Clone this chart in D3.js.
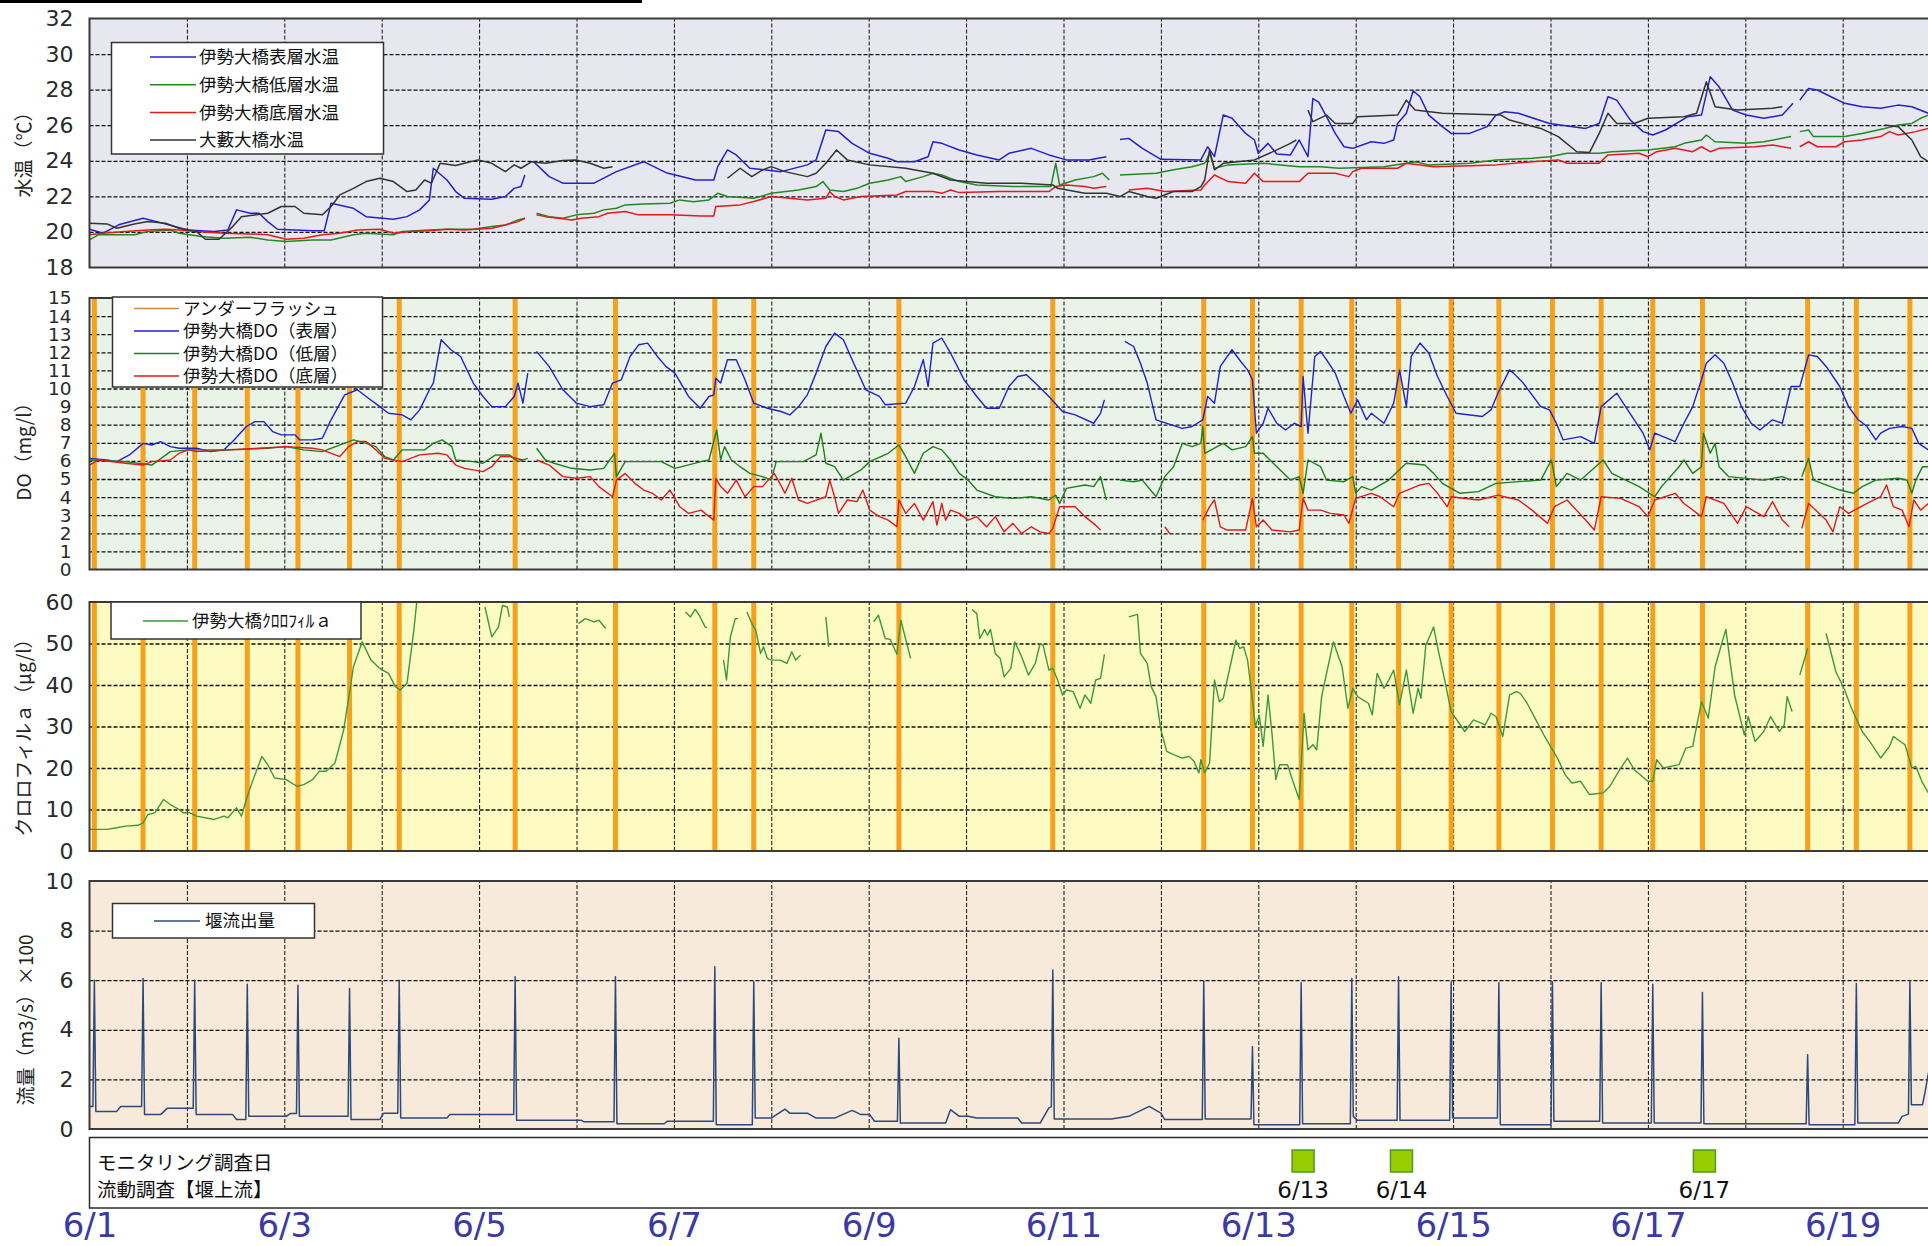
<!DOCTYPE html>
<html lang="ja">
<head>
<meta charset="utf-8">
<title>伊勢大橋 水質・流量</title>
<script src="https://cdn.jsdelivr.net/npm/d3@7"></script>
<style>
  body { margin: 0; background: #fff; }
  svg { display: block; }
  .grid path { display: none; }
  .grid line { stroke: #111; stroke-dasharray: 4 2; }
</style>
</head>
<body>
<svg id="chart" width="1928" height="1246"></svg>
<script>
// ----------------------------------------------------------
// data  (day = days after 6/1 00:00)
// ----------------------------------------------------------
const dateTickDays = [0, 2, 4, 6, 8, 10, 12, 14, 16, 18];
const dateTickLabels = ["6/1", "6/3", "6/5", "6/7", "6/9", "6/11", "6/13", "6/15", "6/17", "6/19"];

const tempTicks = [18, 20, 22, 24, 26, 28, 30, 32];
const doTicks = [0, 1, 2, 3, 4, 5, 6, 7, 8, 9, 10, 11, 12, 13, 14, 15];
const chlTicks = [0, 10, 20, 30, 40, 50, 60];
const flowTicks = [0, 2, 4, 6, 8, 10];

const tempNames = ["伊勢大橋表層水温", "伊勢大橋低層水温", "伊勢大橋底層水温", "大藪大橋水温"];
const doNames = ["アンダーフラッシュ", "伊勢大橋DO（表層）", "伊勢大橋DO（低層）", "伊勢大橋DO（底層）"];
const chlNames = ["伊勢大橋ｸﾛﾛﾌｨﾙａ"];
const flowNames = ["堰流出量"];

const surveyDays = [12.46, 13.47, 16.58];
const surveyLabels = ["6/13", "6/14", "6/17"];

// underflush operations (orange bands)
const underflushDays = [0.05, 0.55, 1.08, 1.62, 2.14, 2.67, 3.18, 4.37, 5.40, 6.42, 6.82, 8.31, 9.89,
  11.44, 11.94, 12.44, 12.96, 13.44, 13.98, 14.47, 15.02, 15.52, 16.05, 16.56, 17.64, 18.14, 18.69];

const tempSurface = [[0.00,20.15],[0.14,19.93],[0.30,20.40],[0.55,20.77],[0.69,20.58],[1.01,20.11],[1.28,20.02],[1.42,20.11],[1.51,21.24],[1.65,21.05],[1.74,21.05],[1.83,20.58],[1.93,20.15],[2.29,20.06],[2.41,20.06],[2.48,21.61],[2.71,21.33],[2.84,20.86],[3.12,20.71],[3.26,20.86],[3.39,21.24],[3.49,21.80],[3.53,23.58],[3.67,22.92],[3.76,22.27],[3.85,21.89],[4.13,21.84],[4.27,21.99],[4.36,22.45],[4.43,22.55],[4.47,23.20],[4.50,null],[4.56,23.95],[4.72,23.11],[4.86,22.74],[5.18,22.74],[5.41,23.39],[5.69,23.95],[5.92,23.33],[6.15,23.02],[6.22,22.92],[6.41,22.92],[6.45,23.67],[6.55,24.61],[6.64,24.33],[6.78,23.58],[7.10,23.39],[7.37,23.77],[7.46,24.05],[7.56,25.73],[7.69,25.64],[7.83,24.98],[8.01,24.42],[8.20,24.14],[8.29,23.95],[8.47,23.95],[8.61,24.23],[8.66,25.07],[8.75,24.98],[8.93,24.61],[9.11,24.33],[9.34,24.05],[9.44,24.42],[9.67,24.70],[9.85,24.33],[10.03,24.05],[10.26,24.05],[10.44,24.23],[10.50,null],[10.58,25.20],[10.67,25.26],[10.81,24.70],[11.00,24.08],[11.41,24.05],[11.48,24.79],[11.55,24.23],[11.64,26.57],[11.73,26.39],[11.87,25.54],[11.96,25.17],[12.00,24.42],[12.10,24.98],[12.19,24.38],[12.33,24.33],[12.42,25.17],[12.51,24.23],[12.56,27.50],[12.62,27.30],[12.70,26.48],[12.79,25.54],[12.88,24.79],[12.97,24.70],[13.16,25.07],[13.29,24.98],[13.39,25.17],[13.43,26.10],[13.52,26.67],[13.59,27.94],[13.66,27.60],[13.75,26.57],[13.89,25.92],[13.98,25.54],[14.17,25.54],[14.35,25.92],[14.44,26.57],[14.53,26.76],[14.67,26.67],[14.99,26.10],[15.36,25.82],[15.50,26.10],[15.59,27.60],[15.68,27.41],[15.82,26.29],[15.95,25.64],[16.05,25.45],[16.18,25.73],[16.41,26.48],[16.55,26.57],[16.64,28.72],[16.73,28.16],[16.87,26.85],[17.01,26.57],[17.19,26.39],[17.38,26.57],[17.49,27.23],[17.52,null],[17.56,27.41],[17.65,28.07],[17.74,27.98],[17.88,27.60],[18.02,27.23],[18.20,27.04],[18.39,26.95],[18.57,27.13],[18.71,27.04],[18.88,26.67],[19.00,26.50]];

const tempLow = [[0.00,19.55],[0.09,19.84],[0.46,19.84],[0.60,20.02],[0.83,20.11],[0.92,19.93],[1.15,19.74],[1.38,19.65],[1.65,19.70],[1.83,19.55],[2.02,19.46],[2.29,19.55],[2.48,19.55],[2.71,19.84],[2.84,19.93],[3.12,19.84],[3.21,20.02],[3.49,20.11],[3.67,20.15],[3.94,20.15],[4.13,20.30],[4.27,20.39],[4.40,20.67],[4.47,20.77],[4.50,null],[4.59,21.05],[4.72,20.86],[4.86,20.77],[5.00,20.96],[5.18,21.05],[5.28,21.24],[5.41,21.33],[5.50,21.52],[5.69,21.57],[5.96,21.61],[6.06,21.80],[6.20,21.70],[6.36,21.80],[6.45,22.17],[6.55,21.99],[6.82,21.89],[7.00,22.17],[7.28,22.36],[7.46,22.55],[7.53,22.83],[7.60,22.36],[7.74,22.27],[7.88,22.45],[8.01,22.74],[8.20,22.92],[8.33,23.11],[8.38,22.83],[8.56,23.11],[8.66,23.30],[8.75,23.20],[8.93,22.83],[9.11,22.64],[9.48,22.55],[9.87,22.55],[9.92,23.86],[9.96,22.64],[10.12,22.92],[10.31,23.11],[10.40,23.30],[10.47,22.92],[10.52,null],[10.58,23.20],[10.95,23.30],[11.13,23.49],[11.32,23.67],[11.45,23.86],[11.50,24.42],[11.55,23.58],[11.69,23.77],[12.05,23.86],[12.42,23.67],[12.64,23.67],[12.83,23.58],[13.29,23.67],[13.52,23.86],[13.61,23.95],[13.75,23.77],[14.17,23.86],[14.44,24.05],[14.81,24.14],[14.99,24.23],[15.17,24.42],[15.50,24.42],[15.63,24.51],[16.00,24.61],[16.28,24.79],[16.37,24.98],[16.55,25.17],[16.60,25.45],[16.69,25.07],[17.01,24.98],[17.19,25.07],[17.47,25.36],[17.52,null],[17.56,25.64],[17.65,25.73],[17.70,25.36],[18.02,25.36],[18.20,25.54],[18.43,25.82],[18.57,26.01],[18.71,26.10],[18.80,26.39],[18.88,26.57],[19.00,26.70]];

const tempBottom = [[0.00,19.84],[0.14,19.93],[0.37,20.02],[0.60,20.11],[0.78,20.15],[0.92,20.11],[1.10,20.02],[1.38,19.93],[1.65,19.89],[1.83,19.84],[2.02,19.59],[2.20,19.65],[2.39,19.84],[2.57,19.93],[2.75,20.11],[2.98,20.15],[3.12,19.93],[3.30,20.02],[3.49,20.06],[3.67,20.15],[3.85,20.11],[4.13,20.21],[4.27,20.39],[4.40,20.58],[4.47,20.77],[4.50,null],[4.59,20.96],[4.68,20.86],[4.82,20.77],[4.95,20.67],[5.05,20.77],[5.23,20.86],[5.32,21.05],[5.50,21.15],[5.64,20.96],[5.96,20.96],[6.28,20.90],[6.41,20.90],[6.43,21.43],[6.68,21.52],[6.82,21.71],[7.00,21.99],[7.19,21.89],[7.37,21.80],[7.56,21.89],[7.60,22.27],[7.65,21.99],[7.74,21.80],[7.92,21.99],[8.29,22.08],[8.38,22.27],[8.66,22.27],[8.75,22.17],[8.84,22.36],[8.93,22.21],[9.34,22.27],[9.85,22.27],[9.92,22.55],[10.03,22.64],[10.22,22.55],[10.31,22.45],[10.44,22.55],[10.50,null],[10.67,22.36],[10.86,22.45],[11.04,22.27],[11.41,22.36],[11.45,22.64],[11.55,23.20],[11.69,22.83],[11.87,22.74],[11.96,23.30],[12.05,22.83],[12.42,22.83],[12.51,23.30],[12.64,23.30],[12.79,23.30],[12.93,23.11],[12.97,23.39],[13.06,23.58],[13.43,23.58],[13.52,23.86],[13.80,23.67],[14.44,23.77],[14.81,23.95],[15.08,24.05],[15.17,23.86],[15.50,23.86],[15.59,24.33],[15.91,24.42],[16.00,24.23],[16.09,24.51],[16.28,24.70],[16.46,24.51],[16.55,24.79],[16.64,24.51],[16.73,24.70],[17.10,24.79],[17.28,24.89],[17.47,24.70],[17.52,null],[17.56,24.79],[17.65,25.07],[17.74,24.79],[17.93,24.79],[18.02,25.07],[18.20,25.17],[18.39,25.36],[18.48,25.64],[18.57,25.45],[18.75,25.64],[18.88,25.82],[19.00,25.90]];

const tempOyabu = [[0.00,20.49],[0.18,20.45],[0.28,20.21],[0.46,20.45],[0.60,20.58],[0.78,20.49],[0.92,20.21],[1.10,20.02],[1.19,19.59],[1.33,19.59],[1.47,20.30],[1.56,20.86],[1.83,21.05],[1.97,21.43],[2.11,21.43],[2.20,21.05],[2.39,20.96],[2.48,21.43],[2.57,22.08],[2.71,22.45],[2.84,22.83],[2.98,23.02],[3.12,22.83],[3.26,22.27],[3.35,22.36],[3.44,22.92],[3.51,22.74],[3.60,23.86],[3.76,23.74],[3.85,23.86],[3.99,24.05],[4.13,23.86],[4.27,23.39],[4.36,23.77],[4.43,23.58],[4.54,23.95],[4.68,23.86],[4.86,24.01],[4.99,24.05],[5.14,23.86],[5.28,23.58],[5.37,23.67],[5.40,null],[6.55,23.02],[6.68,23.58],[6.80,23.11],[6.91,23.49],[7.00,23.67],[7.14,23.39],[7.37,23.11],[7.46,23.30],[7.56,23.86],[7.67,24.61],[7.78,24.05],[8.01,23.77],[8.38,23.58],[8.66,23.30],[8.84,22.92],[9.21,22.74],[9.57,22.74],[9.89,22.64],[9.94,22.45],[10.22,22.17],[10.44,22.17],[10.58,21.99],[10.67,22.27],[10.86,21.99],[10.95,21.89],[11.13,22.27],[11.32,22.27],[11.41,22.55],[11.45,22.92],[11.50,24.61],[11.55,23.49],[11.64,23.86],[11.96,24.05],[12.19,24.61],[12.33,24.98],[12.39,25.17],[12.44,null],[12.51,26.85],[12.56,26.20],[12.70,26.57],[12.79,26.10],[12.97,26.10],[13.02,26.48],[13.43,26.57],[13.52,27.41],[13.61,26.85],[13.89,26.67],[14.49,26.57],[14.58,26.29],[14.90,25.82],[15.08,25.36],[15.27,24.51],[15.40,24.46],[15.50,25.54],[15.59,26.67],[15.68,26.10],[15.86,26.10],[16.00,26.39],[16.37,26.48],[16.50,26.67],[16.60,28.44],[16.69,27.04],[16.92,26.85],[17.28,26.95],[17.38,27.04],[17.42,null],[18.43,26.01],[18.57,25.92],[18.71,25.17],[18.80,24.23],[18.88,23.95],[19.00,23.90]];

const doSurface = [[0.00,6.14],[0.18,6.05],[0.28,5.96],[0.41,6.33],[0.55,6.97],[0.64,6.88],[0.73,7.06],[0.83,6.79],[0.92,6.70],[1.10,6.70],[1.24,6.51],[1.38,6.61],[1.47,7.07],[1.61,7.90],[1.70,8.17],[1.79,8.17],[1.88,7.62],[1.97,7.44],[2.11,7.44],[2.16,7.16],[2.29,7.16],[2.39,7.25],[2.48,8.27],[2.62,9.65],[2.75,9.93],[2.84,9.56],[2.98,9.00],[3.07,8.63],[3.21,8.54],[3.30,8.27],[3.39,8.82],[3.49,9.93],[3.53,10.30],[3.61,12.69],[3.71,12.14],[3.81,11.77],[3.94,10.30],[4.04,9.56],[4.13,9.00],[4.27,9.00],[4.36,9.56],[4.40,10.30],[4.45,9.19],[4.50,10.85],[4.54,null],[4.59,12.05],[4.72,11.21],[4.86,9.93],[5.00,9.19],[5.14,9.00],[5.28,9.10],[5.37,10.30],[5.46,10.48],[5.55,11.77],[5.64,12.42],[5.73,12.51],[5.83,11.77],[5.92,11.21],[6.01,10.85],[6.15,9.56],[6.27,8.91],[6.36,9.56],[6.41,9.65],[6.43,10.57],[6.48,10.30],[6.55,11.59],[6.64,11.59],[6.73,10.48],[6.82,9.19],[6.96,8.91],[7.10,8.73],[7.19,8.54],[7.28,9.00],[7.37,9.65],[7.46,10.85],[7.56,12.32],[7.65,13.06],[7.74,12.69],[7.83,11.59],[7.97,9.93],[8.11,9.56],[8.17,9.10],[8.38,9.19],[8.47,10.11],[8.56,11.59],[8.61,10.11],[8.66,12.51],[8.75,12.79],[8.84,11.96],[8.98,10.48],[9.11,9.56],[9.21,8.91],[9.34,8.91],[9.44,10.11],[9.53,10.66],[9.62,10.76],[9.71,10.30],[9.85,9.56],[9.99,8.73],[10.12,8.54],[10.31,8.08],[10.38,8.63],[10.42,9.37],[10.46,null],[10.63,12.60],[10.72,12.32],[10.79,11.40],[10.86,10.30],[10.95,8.27],[11.22,7.80],[11.32,7.90],[11.43,8.27],[11.48,9.56],[11.55,9.19],[11.61,11.22],[11.73,12.14],[11.82,11.49],[11.89,11.03],[11.94,10.48],[11.98,7.53],[12.05,8.08],[12.10,8.91],[12.19,8.08],[12.28,7.71],[12.37,8.08],[12.44,7.90],[12.46,10.66],[12.51,7.53],[12.58,11.77],[12.64,12.05],[12.70,11.59],[12.79,10.85],[12.88,9.56],[12.95,8.63],[13.02,9.37],[13.11,8.27],[13.16,8.63],[13.29,8.08],[13.39,9.19],[13.45,11.03],[13.52,9.00],[13.57,11.77],[13.66,12.51],[13.75,11.96],[13.84,10.66],[13.94,9.56],[14.03,8.63],[14.30,8.45],[14.39,8.82],[14.46,9.74],[14.58,11.03],[14.62,10.85],[14.72,10.30],[14.90,9.00],[14.99,8.82],[15.06,8.08],[15.13,7.16],[15.31,7.34],[15.45,6.97],[15.52,9.00],[15.68,9.74],[15.77,9.00],[15.86,8.27],[15.95,7.53],[16.02,6.61],[16.07,7.53],[16.28,7.07],[16.37,8.08],[16.46,9.00],[16.55,10.48],[16.60,11.40],[16.69,11.86],[16.78,11.40],[16.87,10.30],[16.96,9.00],[17.06,8.08],[17.15,7.71],[17.28,8.27],[17.38,8.08],[17.47,10.11],[17.56,10.11],[17.65,11.86],[17.74,11.77],[17.83,11.22],[17.97,10.11],[18.06,9.00],[18.16,8.27],[18.25,7.90],[18.34,7.16],[18.39,7.53],[18.48,7.80],[18.61,7.90],[18.71,7.80],[18.78,6.97],[18.88,6.61],[19.00,6.50]];

const doLow = [[0.00,6.05],[0.37,5.96],[0.64,5.77],[0.83,6.51],[1.01,6.61],[1.10,6.51],[1.47,6.61],[1.83,6.70],[2.02,6.79],[2.20,6.61],[2.39,6.51],[2.71,7.16],[2.84,6.97],[2.94,6.79],[3.03,6.24],[3.12,6.05],[3.21,6.61],[3.44,6.61],[3.53,6.97],[3.62,7.16],[3.72,6.79],[3.76,6.05],[3.94,5.96],[4.04,5.87],[4.17,6.33],[4.31,6.33],[4.40,5.96],[4.50,6.14],[4.54,null],[4.59,6.70],[4.68,6.05],[4.77,5.87],[4.95,5.59],[5.14,5.50],[5.28,5.59],[5.39,6.42],[5.41,5.13],[5.50,5.96],[5.69,5.96],[5.87,5.96],[6.01,5.59],[6.28,5.96],[6.36,6.05],[6.44,7.71],[6.48,6.05],[6.52,6.79],[6.59,6.05],[6.68,5.68],[6.78,5.31],[6.91,5.13],[7.00,4.94],[7.05,5.96],[7.33,5.96],[7.46,6.33],[7.51,7.53],[7.56,5.87],[7.65,5.68],[7.74,4.94],[7.92,5.50],[8.01,5.96],[8.20,6.42],[8.31,6.88],[8.38,6.24],[8.47,5.31],[8.56,6.42],[8.66,6.79],[8.75,6.61],[8.84,6.05],[8.93,5.31],[9.02,4.94],[9.11,4.39],[9.30,4.02],[9.48,3.93],[9.67,4.02],[9.85,3.84],[9.92,4.11],[9.96,3.65],[10.03,4.48],[10.22,4.67],[10.31,4.58],[10.38,5.13],[10.44,3.84],[10.50,null],[10.58,4.94],[10.72,4.85],[10.81,4.94],[10.95,4.02],[11.04,5.13],[11.13,5.68],[11.22,6.97],[11.32,6.79],[11.41,6.97],[11.43,7.90],[11.45,6.42],[11.64,6.97],[11.73,6.61],[11.87,6.79],[11.94,7.34],[11.96,6.42],[12.05,6.42],[12.19,5.68],[12.33,4.94],[12.42,5.13],[12.46,4.21],[12.51,6.05],[12.64,5.68],[12.70,4.94],[12.88,4.85],[12.97,5.13],[13.00,4.21],[13.06,4.58],[13.16,4.39],[13.34,4.94],[13.48,5.68],[13.52,5.87],[13.71,5.77],[13.80,5.31],[13.89,4.76],[14.07,4.21],[14.26,4.30],[14.44,4.76],[14.90,4.94],[15.01,6.05],[15.06,4.58],[15.17,5.31],[15.31,4.94],[15.54,6.05],[15.63,5.31],[15.91,4.58],[16.07,4.02],[16.14,4.58],[16.32,5.68],[16.37,6.05],[16.46,5.31],[16.55,5.68],[16.57,7.53],[16.64,6.42],[16.69,6.97],[16.73,5.68],[16.83,5.13],[17.19,4.94],[17.38,5.13],[17.47,4.94],[17.52,null],[17.58,5.13],[17.65,6.14],[17.70,4.94],[17.97,4.39],[18.11,4.21],[18.20,4.58],[18.34,4.94],[18.57,5.04],[18.66,4.94],[18.71,4.21],[18.75,4.94],[18.82,5.68],[18.88,5.68],[19.00,5.80]];

const doBottom = [[0.00,5.77],[0.09,6.05],[0.37,5.87],[0.55,5.77],[0.64,5.96],[0.83,6.05],[0.92,6.42],[1.01,6.61],[1.38,6.61],[1.74,6.70],[2.02,6.79],[2.29,6.70],[2.39,6.61],[2.57,6.24],[2.66,6.79],[2.75,7.07],[2.84,7.07],[2.94,6.61],[3.03,6.14],[3.21,5.96],[3.39,6.33],[3.58,6.42],[3.67,6.33],[3.76,5.77],[3.85,5.59],[4.04,5.41],[4.13,5.68],[4.22,6.24],[4.31,6.24],[4.45,6.05],[4.52,null],[4.59,6.05],[4.72,5.77],[4.86,5.13],[5.00,5.04],[5.14,5.13],[5.23,4.58],[5.37,4.02],[5.41,4.94],[5.50,5.31],[5.60,4.76],[5.69,4.39],[5.78,4.21],[5.87,3.84],[5.96,4.39],[6.06,3.47],[6.15,3.10],[6.28,3.28],[6.32,3.10],[6.41,2.73],[6.43,5.04],[6.48,4.58],[6.55,4.21],[6.64,4.94],[6.73,4.02],[6.82,4.58],[6.91,4.58],[7.03,5.31],[7.07,4.94],[7.14,4.21],[7.21,5.04],[7.28,3.84],[7.37,3.65],[7.56,4.02],[7.60,4.94],[7.65,4.02],[7.69,3.10],[7.78,3.84],[7.88,3.75],[7.94,4.39],[8.01,3.28],[8.11,2.92],[8.20,2.73],[8.29,2.36],[8.31,3.84],[8.38,3.10],[8.47,3.65],[8.56,2.73],[8.66,3.75],[8.70,2.45],[8.75,3.65],[8.79,2.73],[8.84,3.28],[8.93,3.10],[9.02,2.73],[9.11,2.92],[9.21,2.36],[9.30,2.92],[9.39,2.08],[9.48,2.55],[9.57,1.99],[9.67,2.36],[9.76,2.08],[9.85,1.99],[9.89,2.27],[9.96,3.47],[10.12,3.47],[10.22,2.92],[10.33,2.45],[10.38,2.18],[10.42,null],[11.04,2.36],[11.09,1.99],[11.12,null],[11.43,2.73],[11.50,3.47],[11.55,3.84],[11.61,2.36],[11.68,2.18],[11.87,2.18],[11.94,3.93],[11.98,2.36],[12.05,2.73],[12.14,2.18],[12.33,2.08],[12.42,2.18],[12.46,3.93],[12.51,3.28],[12.64,3.28],[12.74,3.10],[12.88,3.01],[12.93,2.55],[13.00,3.93],[13.16,4.21],[13.25,4.02],[13.39,3.47],[13.45,4.21],[13.66,4.67],[13.75,4.76],[13.84,4.21],[13.94,3.47],[13.98,4.02],[14.26,3.84],[14.46,4.11],[14.67,3.84],[14.81,3.28],[14.97,2.55],[15.04,3.47],[15.17,3.84],[15.36,2.73],[15.45,2.18],[15.52,4.02],[15.72,3.93],[15.91,3.47],[16.00,2.92],[16.07,3.84],[16.28,4.21],[16.37,3.65],[16.55,2.92],[16.60,4.02],[16.78,3.65],[16.92,2.55],[17.01,3.47],[17.19,2.92],[17.28,3.75],[17.38,2.73],[17.45,2.36],[17.52,null],[17.58,2.27],[17.65,3.65],[17.83,2.73],[17.90,2.08],[17.97,3.47],[18.06,3.10],[18.25,3.65],[18.39,4.02],[18.45,4.67],[18.52,3.47],[18.61,3.28],[18.68,2.36],[18.73,3.84],[18.80,3.28],[18.88,3.65],[19.00,3.50]];

const chlA = [[0.00,5.2],[0.18,5.2],[0.28,5.6],[0.37,6.0],[0.50,6.2],[0.55,6.8],[0.60,8.8],[0.67,9.2],[0.76,12.4],[0.83,11.2],[0.92,10.0],[0.96,9.2],[1.03,9.2],[1.10,8.4],[1.28,7.6],[1.38,8.4],[1.42,8.0],[1.51,10.4],[1.56,8.4],[1.61,12.4],[1.68,17.2],[1.77,22.8],[1.83,20.8],[1.90,17.6],[2.02,17.2],[2.13,15.6],[2.20,16.0],[2.29,17.2],[2.36,19.2],[2.43,19.2],[2.52,21.2],[2.61,29.2],[2.71,44.4],[2.80,50.4],[2.89,46.0],[2.98,44.0],[3.07,42.8],[3.14,39.6],[3.19,38.8],[3.26,40.4],[3.33,53.2],[3.36,60.0],[3.40,null],[4.06,58.8],[4.13,51.6],[4.20,54.0],[4.24,59.2],[4.29,58.8],[4.31,56.4],[4.35,null],[5.02,54.8],[5.09,56.0],[5.18,55.2],[5.23,55.6],[5.30,53.6],[5.35,null],[6.12,57.6],[6.17,56.4],[6.22,58.2],[6.27,56.4],[6.32,54.0],[6.34,53.8],[6.40,null],[6.51,46.0],[6.54,41.2],[6.58,51.6],[6.63,56.0],[6.66,56.0],[6.70,null],[6.75,57.6],[6.80,54.8],[6.84,53.2],[6.89,47.6],[6.92,49.2],[6.96,46.4],[7.00,46.0],[7.09,46.0],[7.16,45.2],[7.21,48.0],[7.25,46.0],[7.30,47.2],[7.35,null],[7.56,56.4],[7.59,49.2],[7.62,null],[8.05,55.2],[8.10,56.8],[8.17,51.2],[8.22,51.0],[8.29,47.4],[8.33,55.6],[8.43,46.4],[8.47,null],[9.06,58.2],[9.11,57.2],[9.14,51.2],[9.19,53.4],[9.22,52.0],[9.25,53.4],[9.30,47.6],[9.35,46.4],[9.39,42.0],[9.46,44.0],[9.50,50.4],[9.57,46.8],[9.64,42.4],[9.71,45.2],[9.76,50.0],[9.79,49.6],[9.85,43.6],[9.89,44.0],[9.94,41.2],[9.99,37.6],[10.03,38.8],[10.10,38.4],[10.17,34.4],[10.22,37.6],[10.28,35.6],[10.33,41.2],[10.38,41.6],[10.42,47.4],[10.50,null],[10.67,56.4],[10.76,57.0],[10.79,47.6],[10.86,45.2],[10.90,39.6],[10.95,37.2],[11.00,29.2],[11.06,24.0],[11.13,23.2],[11.22,22.4],[11.29,22.8],[11.34,21.6],[11.39,18.8],[11.41,22.0],[11.45,18.8],[11.50,21.2],[11.55,41.2],[11.60,36.0],[11.64,36.8],[11.71,44.4],[11.77,50.8],[11.81,48.8],[11.85,49.2],[11.89,46.0],[11.94,36.4],[11.97,30.0],[12.01,32.8],[12.05,25.2],[12.10,37.6],[12.14,28.4],[12.18,17.2],[12.22,20.8],[12.30,20.8],[12.35,17.2],[12.42,12.4],[12.47,33.2],[12.51,24.4],[12.56,25.6],[12.60,24.4],[12.65,37.2],[12.77,50.4],[12.86,44.4],[12.92,34.4],[12.97,39.2],[13.02,37.2],[13.13,35.6],[13.17,32.8],[13.22,42.8],[13.29,39.2],[13.34,41.2],[13.39,43.6],[13.45,35.2],[13.52,43.6],[13.59,33.2],[13.64,39.2],[13.67,36.8],[13.72,49.6],[13.80,54.0],[13.84,49.2],[13.91,41.6],[13.98,33.6],[14.05,31.2],[14.12,28.8],[14.21,31.6],[14.33,30.4],[14.39,33.2],[14.44,32.4],[14.51,27.6],[14.58,37.6],[14.65,38.4],[14.69,38.0],[14.76,35.6],[14.85,31.6],[14.94,27.6],[15.01,24.8],[15.08,22.0],[15.15,18.4],[15.22,16.4],[15.31,16.8],[15.40,13.6],[15.54,14.0],[15.61,15.6],[15.70,19.2],[15.79,22.4],[15.86,19.6],[16.00,16.8],[16.05,16.8],[16.09,22.0],[16.16,20.0],[16.32,20.8],[16.39,24.8],[16.46,25.2],[16.55,36.0],[16.62,32.0],[16.69,44.4],[16.80,53.4],[16.89,37.6],[16.99,28.0],[17.03,32.4],[17.10,26.4],[17.19,28.8],[17.26,32.4],[17.35,28.8],[17.40,30.4],[17.43,37.2],[17.48,33.6],[17.52,null],[17.56,42.4],[17.64,48.8],[17.70,null],[17.83,52.4],[17.93,43.2],[18.02,38.8],[18.09,34.4],[18.20,28.8],[18.29,26.0],[18.39,22.4],[18.48,25.2],[18.52,27.6],[18.64,25.6],[18.71,20.0],[18.75,20.4],[18.82,16.4],[18.88,14.0],[19.00,12.0]];

// 堰流出量 (m3/s x100)
const flowOut = [[0.00,0.91],[0.035,0.91],[0.05,6.00],[0.065,0.71],[0.28,0.71],[0.32,0.91],[0.535,0.91],[0.55,6.07],[0.565,0.58],[0.73,0.58],[0.80,0.84],[1.065,0.84],[1.08,6.00],[1.095,0.58],[1.47,0.58],[1.51,0.38],[1.605,0.38],[1.62,5.84],[1.635,0.51],[2.02,0.51],[2.06,0.62],[2.125,0.62],[2.14,5.80],[2.155,0.51],[2.655,0.51],[2.67,5.67],[2.685,0.38],[2.98,0.38],[3.02,0.64],[3.165,0.64],[3.18,6.00],[3.195,0.44],[3.67,0.44],[3.70,0.58],[4.355,0.58],[4.37,6.14],[4.385,0.35],[5.05,0.35],[5.08,0.29],[5.385,0.29],[5.40,6.14],[5.415,0.21],[5.90,0.21],[5.93,0.31],[6.405,0.31],[6.42,6.54],[6.435,0.17],[6.805,0.17],[6.82,5.94],[6.835,0.44],[7.00,0.44],[7.14,0.80],[7.19,0.64],[7.37,0.64],[7.46,0.44],[7.65,0.44],[7.83,0.75],[7.92,0.58],[8.01,0.58],[8.06,0.31],[8.295,0.31],[8.31,3.66],[8.325,0.24],[8.79,0.24],[8.84,0.78],[8.93,0.51],[9.02,0.51],[9.11,0.44],[9.53,0.44],[9.57,0.24],[9.76,0.24],[9.85,0.85],[9.875,0.90],[9.89,6.41],[9.905,0.40],[10.49,0.40],[10.67,0.51],[10.88,0.91],[11.00,0.64],[11.04,0.38],[11.425,0.38],[11.44,5.98],[11.455,0.40],[11.925,0.40],[11.94,3.32],[11.955,0.17],[12.425,0.17],[12.44,5.90],[12.455,0.21],[12.945,0.21],[12.96,6.07],[12.975,0.51],[13.02,0.35],[13.425,0.35],[13.44,6.14],[13.455,0.35],[13.965,0.35],[13.98,5.94],[13.995,0.44],[14.455,0.44],[14.47,5.90],[14.485,0.17],[15.005,0.17],[15.02,5.94],[15.035,0.31],[15.505,0.31],[15.52,5.90],[15.535,0.24],[16.035,0.24],[16.05,5.84],[16.065,0.24],[16.545,0.24],[16.56,5.50],[16.575,0.21],[17.625,0.21],[17.64,2.99],[17.655,0.17],[18.125,0.17],[18.14,5.87],[18.155,0.24],[18.57,0.24],[18.61,0.51],[18.675,0.60],[18.69,6.00],[18.705,0.98],[18.82,0.98],[18.85,1.58],[18.88,2.25],[18.95,2.60],[19.00,2.70]];

// ----------------------------------------------------------
// layout
// ----------------------------------------------------------
const W = 1928, H = 1246;
const plotLeft = 89.5, dayPx = 97.4;
const x = d3.scaleLinear().domain([0, 19]).range([plotLeft, plotLeft + 19 * dayPx]);
const plotW = x(19) - plotLeft;

const NUM = "'DejaVu Sans', sans-serif";
const JP = "'Noto Sans CJK JP', 'Noto Sans', sans-serif";

const svg = d3.select("#chart");
svg.append("rect").attr("width", W).attr("height", H).attr("fill", "#fff");

// thin black bar at the very top (cropped title)
svg.append("rect").attr("x", 0).attr("y", 0).attr("width", 642).attr("height", 3).attr("fill", "#000");

const line = y => d3.line()
  .defined(d => d[1] !== null)
  .x(d => x(d[0]))
  .y(d => y(d[1]));

function drawPanel(p) {
  const g = svg.append("g");
  const h = p.bottom - p.top;
  const y = d3.scaleLinear().domain(p.domain).range([p.bottom, p.top]);

  g.append("rect")
    .attr("x", plotLeft).attr("y", p.top)
    .attr("width", plotW).attr("height", h)
    .attr("fill", p.bg);

  // horizontal grid
  g.append("g").attr("class", "grid")
    .attr("transform", `translate(${plotLeft},0)`)
    .call(d3.axisLeft(y).tickValues(p.ticks.slice(1, -1)).tickSize(-plotW).tickFormat(""))
    .selectAll("line").attr("stroke-width", 1.3);

  // vertical grid: one per day
  g.append("g").attr("class", "grid")
    .attr("transform", `translate(0,${p.bottom})`)
    .call(d3.axisBottom(x).tickValues(d3.range(1, 19)).tickSize(-h).tickFormat(""))
    .selectAll("line").attr("stroke-width", 1);

  const clipId = "clip-" + p.key;
  svg.append("clipPath").attr("id", clipId)
    .append("rect").attr("x", plotLeft).attr("y", p.top).attr("width", plotW).attr("height", h);
  const inner = g.append("g").attr("clip-path", `url(#${clipId})`);

  // y tick labels
  const ax = g.append("g")
    .attr("transform", `translate(${plotLeft},0)`)
    .call(d3.axisLeft(y).tickValues(p.ticks).tickSize(0).tickPadding(p.pad));
  ax.select(".domain").remove();
  ax.attr("font-family", NUM).attr("font-size", p.fs);
  ax.selectAll("text").attr("fill", "#2a2a2a");

  // axis title
  g.append("text")
    .attr("transform", `translate(${p.titleX},${p.titleY}) rotate(-90)`)
    .attr("text-anchor", "middle").attr("dy", "0.35em")
    .attr("font-family", JP).attr("font-size", 19).attr("fill", "#222")
    .text(p.title);

  return { g, inner, y, top: p.top, bottom: p.bottom, h };
}

function drawFrame(P) {
  P.g.append("rect")
    .attr("x", plotLeft).attr("y", P.top).attr("width", plotW).attr("height", P.h)
    .attr("fill", "none").attr("stroke", "#3a3a3a").attr("stroke-width", 2);
}

function drawUnderflush(P) {
  P.inner.append("g").selectAll("line")
    .data(underflushDays).join("line")
    .attr("x1", d => x(d)).attr("x2", d => x(d))
    .attr("y1", P.top).attr("y2", P.bottom)
    .attr("stroke", "#f6a11c").attr("stroke-width", 5);
}

function drawSeries(P, data, color, width) {
  P.inner.append("path")
    .datum(data)
    .attr("d", line(P.y))
    .attr("fill", "none").attr("stroke", color)
    .attr("stroke-width", width).attr("stroke-linejoin", "round");
}

function drawLegend(box, names, colors) {
  const g = svg.append("g");
  g.append("rect")
    .attr("x", box.x).attr("y", box.y).attr("width", box.w).attr("height", box.h)
    .attr("fill", "#fff").attr("stroke", "#333").attr("stroke-width", 1.5);
  names.forEach((name, i) => {
    const cy = box.row0 + i * box.step;
    g.append("line")
      .attr("x1", box.lx1).attr("x2", box.lx2).attr("y1", cy).attr("y2", cy)
      .attr("stroke", colors[i]).attr("stroke-width", 1.5);
    g.append("text")
      .attr("x", box.tx).attr("y", cy).attr("dy", "0.36em")
      .attr("font-family", JP).attr("font-size", 17.5).attr("fill", "#111")
      .text(name);
  });
}

// ---- panel 1: water temperature ----
const tempColors = ["#2222cc", "#1f8a1f", "#e41a1a", "#333333"];
const P1 = drawPanel({ key: "temp", top: 18.5, bottom: 267.5, domain: [18, 32], ticks: tempTicks,
  bg: "#e7e7ef", pad: 16, fs: 22, title: "水温（℃）", titleX: 24, titleY: 150 });
drawSeries(P1, tempSurface, tempColors[0], 1.5);
drawSeries(P1, tempLow, tempColors[1], 1.5);
drawSeries(P1, tempBottom, tempColors[2], 1.5);
drawSeries(P1, tempOyabu, tempColors[3], 1.5);
drawFrame(P1);
drawLegend({ x: 111.5, y: 42.5, w: 272, h: 111.5, row0: 57, step: 27.7, lx1: 150, lx2: 196, tx: 199 },
  tempNames, tempColors);

// ---- panel 2: DO ----
const doColors = ["#c98a3c", "#2222cc", "#1f7f1f", "#e41a1a"];
const P2 = drawPanel({ key: "do", top: 298, bottom: 569.5, domain: [0, 15], ticks: doTicks,
  bg: "#e9f3e7", pad: 18, fs: 18.5, title: "DO（mg/l）", titleX: 24, titleY: 447 });
drawUnderflush(P2);
drawSeries(P2, doSurface, doColors[1], 1.4);
drawSeries(P2, doLow, doColors[2], 1.4);
drawSeries(P2, doBottom, doColors[3], 1.4);
drawFrame(P2);
drawLegend({ x: 112.5, y: 297, w: 270, h: 90, row0: 308.5, step: 22.5, lx1: 134, lx2: 179, tx: 183 },
  doNames, doColors);

// ---- panel 3: chlorophyll a ----
const P3 = drawPanel({ key: "chl", top: 602, bottom: 851, domain: [0, 60], ticks: chlTicks,
  bg: "#fdfbc2", pad: 16, fs: 22, title: "クロロフィルａ（μg/l）", titleX: 24, titleY: 733 });
drawUnderflush(P3);
drawSeries(P3, chlA, "#3a9a3a", 1.4);
drawFrame(P3);
drawLegend({ x: 111, y: 602, w: 250, h: 37, row0: 621, step: 0, lx1: 143, lx2: 188, tx: 192 },
  chlNames, ["#3a9a3a"]);

// ---- panel 4: outflow ----
const P4 = drawPanel({ key: "flow", top: 881, bottom: 1129, domain: [0, 10], ticks: flowTicks,
  bg: "#f7eada", pad: 16, fs: 22, title: "流量（m3/s）×100", titleX: 26, titleY: 1020 });
drawSeries(P4, flowOut, "#2b4a7a", 1.5);
drawFrame(P4);
drawLegend({ x: 112.5, y: 903.5, w: 202, h: 34.5, row0: 921, step: 0, lx1: 154, lx2: 200, tx: 205 },
  flowNames, ["#2b4a7a"]);

// ---- monitoring survey strip ----
const strip = svg.append("g");
strip.append("rect")
  .attr("x", plotLeft).attr("y", 1137.5).attr("width", plotW).attr("height", 70.5)
  .attr("fill", "#fff").attr("stroke", "#2a2a2a").attr("stroke-width", 1.5);
strip.append("text").attr("x", 97).attr("y", 1163).attr("dy", "0.36em")
  .attr("font-family", JP).attr("font-size", 19.5).attr("fill", "#111").text("モニタリング調査日");
strip.append("text").attr("x", 97).attr("y", 1190).attr("dy", "0.36em")
  .attr("font-family", JP).attr("font-size", 19.5).attr("fill", "#111").text("流動調査【堰上流】");
strip.selectAll("rect.mark").data(surveyDays).join("rect").attr("class", "mark")
  .attr("x", d => x(d) - 11).attr("y", 1150).attr("width", 22).attr("height", 22)
  .attr("fill", "#99cc00").attr("stroke", "#4e9a22").attr("stroke-width", 1.5);
strip.selectAll("text.mlab").data(surveyDays).join("text").attr("class", "mlab")
  .attr("x", d => x(d)).attr("y", 1198).attr("text-anchor", "middle")
  .attr("font-family", NUM).attr("font-size", 23).attr("fill", "#111")
  .text((d, i) => surveyLabels[i]);

// ---- date labels ----
const xa = svg.append("g")
  .attr("transform", "translate(0,1208)")
  .call(d3.axisBottom(x).tickValues(dateTickDays).tickSize(0).tickPadding(5)
    .tickFormat((d, i) => dateTickLabels[i]));
xa.select(".domain").remove();
xa.attr("font-family", NUM).attr("font-size", 34);
xa.selectAll("text").attr("fill", "#3a3aa6").attr("dy", "0.71em");
</script>
</body>
</html>
